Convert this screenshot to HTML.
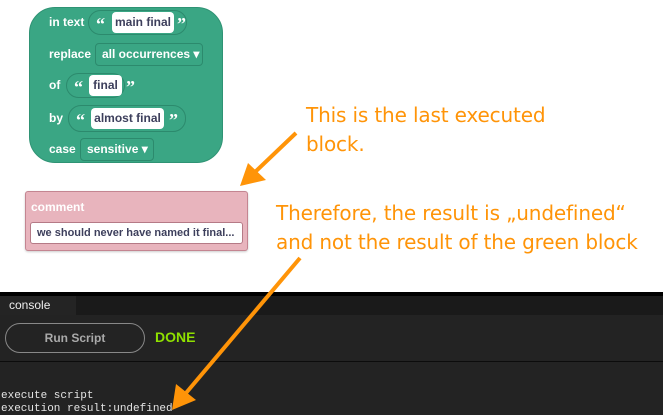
<!DOCTYPE html>
<html><head><meta charset="utf-8"><style>
*{margin:0;padding:0;box-sizing:border-box}
body{width:663px;height:415px;overflow:hidden;background:#fff;position:relative;font-family:"Liberation Sans",sans-serif}
.a{position:absolute}
.lbl{position:absolute;color:#fff;font-weight:bold;font-size:12px}
.pill{position:absolute;border:1px solid #2c8a6d;border-radius:13px;background:#3aa684}
.q{position:absolute;color:#fff;font-weight:bold;font-size:18px;font-family:"Liberation Serif",serif;line-height:20px}
.w{position:absolute;background:#fff;border-radius:4px;color:#3d3f5c;font-weight:bold;font-size:12px;text-align:center;line-height:20px}
.dd{position:absolute;border:1px solid #2c8a6d;border-radius:4px;color:#fff;font-weight:bold;font-size:12px;line-height:21px;padding-left:6px}
.or{position:absolute;color:#ff9408;font-size:20px;line-height:29px;font-family:"DejaVu Sans","Liberation Sans",sans-serif;letter-spacing:-0.15px}
.mono{font-family:"Liberation Mono",monospace;font-size:11px;color:#e4e4e4;line-height:13px}
</style></head><body>
<div class="a" style="left:29px;top:7px;width:194px;height:156px;background:#3aa684;border-radius:26px;border:1px solid #2f9374"></div>
<div class="lbl" style="left:49px;top:15px">in text</div>
<div class="pill" style="left:88px;top:10px;width:99px;height:25px"></div>
<div class="q" style="left:96px;top:14px">“</div>
<div class="w" style="left:112px;top:12px;width:62px;height:21px">main final</div>
<div class="q" style="left:177px;top:14px">”</div>
<div class="lbl" style="left:49px;top:47px">replace</div>
<div class="dd" style="left:95px;top:43px;width:108px;height:23px">all occurrences ▾</div>
<div class="lbl" style="left:49px;top:78px">of</div>
<div class="pill" style="left:66px;top:73px;width:59px;height:25px"></div>
<div class="q" style="left:74px;top:77px">“</div>
<div class="w" style="left:89px;top:75px;width:33px;height:21px">final</div>
<div class="q" style="left:126px;top:77px">”</div>
<div class="lbl" style="left:49px;top:111px">by</div>
<div class="pill" style="left:68px;top:105px;width:118px;height:27px"></div>
<div class="q" style="left:76px;top:110px">“</div>
<div class="w" style="left:91px;top:108px;width:73px;height:21px">almost final</div>
<div class="q" style="left:169px;top:110px">”</div>
<div class="lbl" style="left:49px;top:142px">case</div>
<div class="dd" style="left:80px;top:138px;width:74px;height:23px">sensitive ▾</div>

<div class="a" style="left:25px;top:191px;width:223px;height:60px;background:#e8b4bd;border:1px solid #c48591;border-radius:3px;box-shadow:0 1px 2px rgba(0,0,0,0.2)"></div>
<div class="lbl" style="left:31px;top:200px;font-size:12px">comment</div>
<div class="a" style="left:30px;top:222px;width:213px;height:22px;background:#fff;border:1px solid #b57a86;border-radius:3px;color:#3d3f5c;font-weight:bold;font-size:11px;line-height:20px;padding-left:6px">we should never have named it final...</div>

<div class="or" style="left:306px;top:101px">This is the last executed<br>block.</div>
<div class="or" style="left:276px;top:199px">Therefore, the result is „undefined“<br>and not the result of the green block</div>

<div class="a" style="left:0;top:292px;width:663px;height:123px;background:#232323"></div>
<div class="a" style="left:0;top:292px;width:663px;height:4px;background:#000"></div>
<div class="a" style="left:0;top:296px;width:663px;height:19px;background:#1a1a1a"></div>
<div class="a" style="left:0;top:296px;width:76px;height:19px;background:#242424;color:#eee;font-size:12px;line-height:18px;padding-left:9px">console</div>
<div class="a" style="left:5px;top:323px;width:140px;height:30px;border:1px solid #888;border-radius:15px;color:#aaa;font-weight:bold;font-size:12px;text-align:center;line-height:28px">Run Script</div>
<div class="a" style="left:155px;top:329px;color:#8fe000;font-weight:bold;font-size:14px">DONE</div>
<div class="a" style="left:0;top:361px;width:663px;height:1px;background:#0c0c0c"></div>
<div class="a mono" style="left:1px;top:390px">execute script<br>execution result:undefined</div>

<svg class="a" style="left:0;top:0" width="663" height="415">
<g stroke="#ff9408" stroke-width="4" fill="#ff9408">
<line x1="296" y1="133" x2="254" y2="173"/>
<line x1="300" y1="258" x2="186" y2="393"/>
</g>
<polygon points="240,186 248,163 266,180" fill="#ff9408"/>
<polygon points="172,410 176,384 196,400" fill="#ff9408"/>
</svg>
</body></html>
